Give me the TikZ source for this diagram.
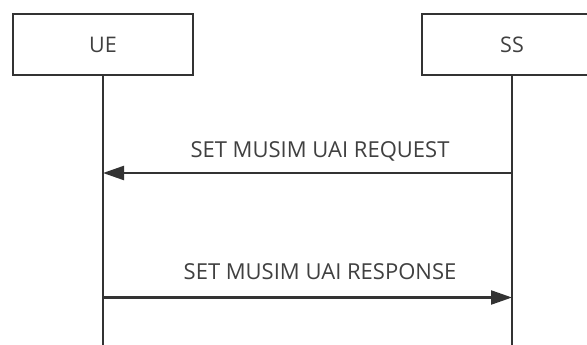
\documentclass[tikz,border=0pt]{standalone}
\usepackage{fontspec}
\setmainfont{Open Sans}
\usetikzlibrary{arrows.meta}
\definecolor{ln}{HTML}{333333}
\definecolor{tx}{HTML}{404040}
\begin{document}
\begin{tikzpicture}[x=1pt,y=-1pt,
  entity/.style={draw=ln,line width=2.3pt,minimum width=180pt,minimum height=61pt,inner sep=0pt,font=\fontsize{21.5}{23}\selectfont,text=tx},
  life/.style={draw=ln,line width=2.3pt},
  msg/.style={draw=ln,line width=2.3pt,-{Triangle[length=21pt,width=14pt]}},
  lbl/.style={font=\fontsize{22}{24}\selectfont,text=tx,anchor=base}]
\useasboundingbox (0,0) rectangle (587,345);
\fill[white] (0,0) rectangle (587,345);
\node[entity] (ue) at (103,44.5) {UE};
\node[entity] (ss) at (512,44.5) {SS};
\coordinate (ueend) at (103,346);
\coordinate (ssend) at (512,346);
\draw[life] (ue.south) -- (ueend);
\draw[life] (ss.south) -- (ssend);
\coordinate (r1) at (512,173);
\coordinate (r2) at (103,173);
\coordinate (s1) at (103,297.5);
\coordinate (s2) at (512,297.5);
\draw[msg] (r1) -- (r2);
\draw[msg] (s1) -- (s2);
\node[lbl] (req) at (320,157.5) {SET MUSIM UAI REQUEST};
\node[lbl] (resp) at (320,279) {SET MUSIM UAI RESPONSE};
\end{tikzpicture}
\end{document}
